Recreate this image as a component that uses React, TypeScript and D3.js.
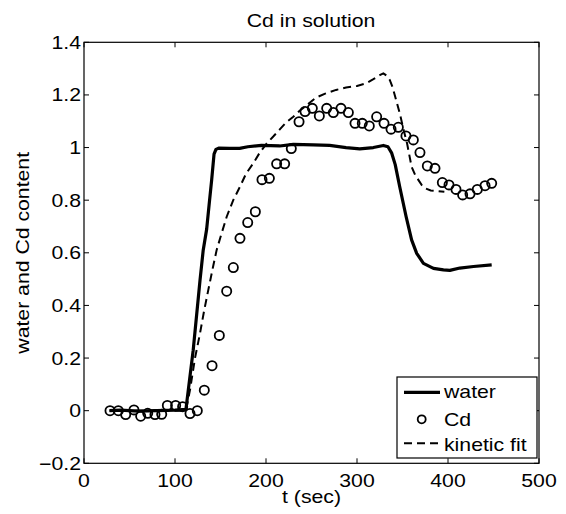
import React from "react";
import * as d3 from "d3";

const tCd = [28.6, 37.7, 45.8, 54.9, 62.3, 70, 78, 85.4, 91.6, 100.7, 108.4, 116.5, 124.5, 132.2, 140.7, 148.7, 156.8, 164.1, 171.4, 179.9, 188.3, 195.6, 203.7, 211.7, 220.5, 227.8, 236.3, 242.9, 250.9, 258.6, 266.7, 274, 282.4, 290.5, 297.8, 305.8, 313.5, 321.6, 329.7, 337.4, 345.4, 353.8, 361.9, 369.2, 377.3, 385.7, 393.8, 401.1, 408.8, 416.1, 424.2, 432.2, 440.7, 448];
const cd = [0, 0, -0.015, 0.003, -0.021, -0.01, -0.015, -0.014, 0.02, 0.02, 0.015, -0.011, 0, 0.078, 0.171, 0.286, 0.454, 0.544, 0.655, 0.715, 0.756, 0.878, 0.883, 0.938, 0.938, 0.996, 1.098, 1.137, 1.149, 1.12, 1.149, 1.133, 1.149, 1.133, 1.092, 1.092, 1.082, 1.117, 1.092, 1.07, 1.077, 1.044, 1.029, 0.981, 0.93, 0.921, 0.867, 0.858, 0.841, 0.82, 0.824, 0.841, 0.855, 0.864];

const tWater = [28, 40, 60, 80, 100, 112, 120, 127.5, 131, 134.8, 138, 140.3, 142.9, 145, 148, 160, 171, 180, 195, 215, 230, 252, 270, 288, 303, 318, 329, 334, 338, 342, 347, 354, 360, 365.6, 373, 384, 395, 402, 413, 428, 448];
const water = [0, 0.002, -0.002, 0, 0.002, 0.005, 0.23, 0.496, 0.61, 0.69, 0.8, 0.877, 0.975, 0.993, 0.998, 0.997, 0.997, 1.003, 1.008, 1.006, 1.012, 1.01, 1.008, 1.0, 0.995, 1.0, 1.008, 1.003, 0.98, 0.935, 0.85, 0.737, 0.649, 0.598, 0.56, 0.541, 0.535, 0.533, 0.542, 0.548, 0.554];

const tFit = [28, 60, 90, 112, 116.5, 122, 127.5, 132, 136.6, 142, 145.8, 150, 156.8, 164, 171.4, 178, 186, 193, 200.8, 208, 215.4, 222, 230, 237, 245, 255, 265, 277, 288, 300, 310, 318, 325, 329, 333, 336, 339, 342, 347, 351, 355, 360, 364, 367.4, 371, 375, 381, 388, 396];
const fit = [0, 0, 0, 0, 0.079, 0.2, 0.294, 0.38, 0.459, 0.55, 0.611, 0.66, 0.737, 0.8, 0.851, 0.9, 0.94, 0.98, 1.016, 1.042, 1.07, 1.095, 1.117, 1.14, 1.162, 1.19, 1.205, 1.219, 1.228, 1.234, 1.244, 1.26, 1.275, 1.282, 1.272, 1.257, 1.23, 1.193, 1.13, 1.07, 1.016, 0.927, 0.895, 0.877, 0.858, 0.845, 0.837, 0.835, 0.832];

const xTicks = [0, 100, 200, 300, 400, 500];
const yTicks = [-0.2, 0, 0.2, 0.4, 0.6, 0.8, 1, 1.2, 1.4];
const yTickLabels = ["\u22120.2", "0", "0.2", "0.4", "0.6", "0.8", "1", "1.2", "1.4"];
const legendLabels = ["water", "Cd", "kinetic fit"];

const FONT = "'Liberation Sans', Arial, Helvetica, sans-serif";
const FS = 18;
const SX = 1.18;

function T({ x, y, anchor = "start", rotate = 0, children }: any) {
  return (
    <text
      transform={`translate(${x},${y}) rotate(${rotate}) scale(${SX},1)`}
      textAnchor={anchor}
      fontFamily={FONT}
      fontSize={FS}
      fill="#000"
    >
      {children}
    </text>
  );
}

export default function App() {
  const L = 84, R = 539, TOP = 42.3, B = 463.3;
  const x = d3.scaleLinear().domain([0, 500]).range([L, R]);
  const y = d3.scaleLinear().domain([-0.2, 1.4]).range([B, TOP]);
  const line = d3.line<[number, number]>().x((d) => x(d[0])).y((d) => y(d[1]));
  const waterPath = line(tWater.map((t, i) => [t, water[i]]) as [number, number][]) || "";
  const fitPath = line(tFit.map((t, i) => [t, fit[i]]) as [number, number][]) || "";
  const tk = 5;

  return (
    <svg width={566} height={514} style={{ position: "absolute", left: 0, top: 0, background: "#fff" }}>
      <rect x={0} y={0} width={566} height={514} fill="#fff" />
      {/* data */}
      <path d={fitPath} fill="none" stroke="#000" strokeWidth={2} strokeDasharray="8,5" />
      <path d={waterPath} fill="none" stroke="#000" strokeWidth={3.2} strokeLinejoin="round" />
      {tCd.map((t, i) => (
        <circle key={i} cx={x(t)} cy={y(cd[i])} r={4.6} fill="none" stroke="#000" strokeWidth={1.8} />
      ))}
      {/* box & ticks */}
      <rect x={L} y={TOP} width={R - L} height={B - TOP} fill="none" stroke="#000" strokeWidth={1.2} />
      {xTicks.map((v) => (
        <g key={"x" + v}>
          <line x1={x(v)} x2={x(v)} y1={B} y2={B - tk} stroke="#000" strokeWidth={1} />
          <line x1={x(v)} x2={x(v)} y1={TOP} y2={TOP + tk} stroke="#000" strokeWidth={1} />
          <T x={x(v)} y={487} anchor="middle">{String(v)}</T>
        </g>
      ))}
      {yTicks.map((v, i) => (
        <g key={"y" + v}>
          <line x1={L} x2={L + tk} y1={y(v)} y2={y(v)} stroke="#000" strokeWidth={1} />
          <line x1={R} x2={R - tk} y1={y(v)} y2={y(v)} stroke="#000" strokeWidth={1} />
          <T x={81} y={y(v) + 6.5} anchor="end">{yTickLabels[i]}</T>
        </g>
      ))}
      {/* title & labels */}
      <T x={311} y={27} anchor="middle">Cd in solution</T>
      <T x={311.5} y={503} anchor="middle">t (sec)</T>
      <T x={29} y={252.8} anchor="middle" rotate={-90}>water and Cd content</T>
      {/* legend */}
      <rect x={397} y={377} width={140} height={81} fill="#fff" stroke="#000" strokeWidth={1.2} />
      <line x1={404} x2={440} y1={392.3} y2={392.3} stroke="#000" strokeWidth={3.2} />
      <T x={444} y={398.3}>{legendLabels[0]}</T>
      <circle cx={421.7} cy={419.3} r={4} fill="none" stroke="#000" strokeWidth={1.8} />
      <T x={444} y={425.7}>{legendLabels[1]}</T>
      <line x1={404} x2={440} y1={443.3} y2={443.3} stroke="#000" strokeWidth={2} strokeDasharray="8,5" />
      <T x={444} y={450.7}>{legendLabels[2]}</T>
    </svg>
  );
}
